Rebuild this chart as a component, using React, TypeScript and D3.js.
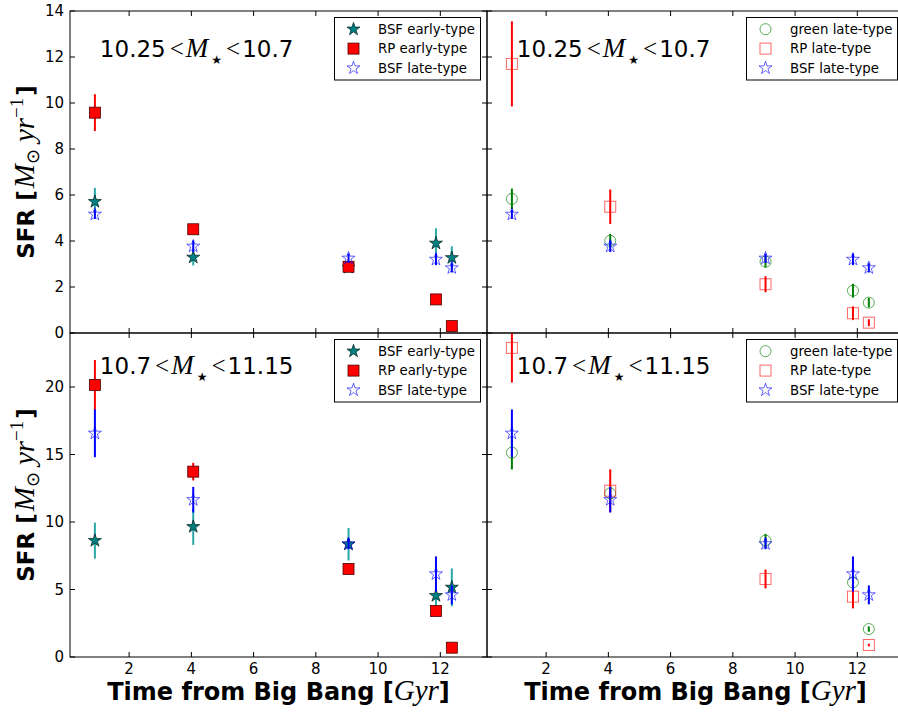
import React from "react";
import * as d3 from "d3";

// ---------- data ----------
const times = [0.9, 4.06, 9.05, 11.86, 12.37];

// low mass bin 10.25 < M < 10.7
const bsfEarlyLow = [5.71, 3.29, 2.85, 3.9, 3.27];
const bsfEarlyLowErr = [0.6, 0.35, 0.2, 0.65, 0.5];
const rpEarlyLow = [9.58, 4.51, 2.88, 1.46, 0.3];
const rpEarlyLowErr = [0.8, 0.15, 0.15, 0.1, 0.08];
const bsfLateLow = [5.16, 3.77, 3.25, 3.2, 2.83];
const bsfLateLowErr = [0.2, 0.25, 0.2, 0.25, 0.2];
const greenLateLow = [5.83, 4.01, 3.1, 1.84, 1.32];
const greenLateLowErr = [0.45, 0.3, 0.25, 0.3, 0.2];
const rpLateLow = [11.7, 5.49, 2.12, 0.86, 0.45];
const rpLateLowErr = [1.85, 0.75, 0.35, 0.3, 0.15];

// high mass bin 10.7 < M < 11.15
const bsfEarlyHigh = [8.62, 9.65, 8.35, 4.54, 5.16];
const bsfEarlyHighErr = [1.33, 1.35, 1.2, 0.8, 1.4];
const rpEarlyHigh = [20.15, 13.73, 6.52, 3.41, 0.69];
const rpEarlyHighErr = [1.85, 0.65, 0.2, 0.2, 0.1];
const bsfLateHigh = [16.57, 11.65, 8.38, 6.15, 4.6];
const bsfLateHighErr = [1.77, 0.95, 0.4, 1.3, 0.7];
const greenLateHigh = [15.14, 12.12, 8.62, 5.53, 2.07];
const greenLateHighErr = [1.25, 0.5, 0.5, 0.6, 0.2];
const rpLateHigh = [22.9, 12.32, 5.78, 4.47, 0.89];
const rpLateHighErr = [2.57, 1.58, 0.7, 0.87, 0.1];

const xTicks = [2, 4, 6, 8, 10, 12];
const yTicksTop = [0, 2, 4, 6, 8, 10, 12, 14];
const yTicksBottom = [0, 5, 10, 15, 20];

const leftLegend = ["BSF early-type", "RP early-type", "BSF late-type"];
const rightLegend = ["green late-type", "RP late-type", "BSF late-type"];
const binLabels = [
  ["10.25", "10.7"],
  ["10.7", "11.15"],
];

// ---------- styling ----------
const W = 898;
const H = 713;
const SANS = "DejaVu Sans";
const SERIF = "Liberation Serif";
const PW = 417;
const colX = [70, 487];
const rows = [
  { top: 11, bottom: 333, ymax: 14, ticks: yTicksTop, annY: 12 },
  { top: 333, bottom: 657, ymax: 24, ticks: yTicksBottom, annY: 21 },
];

type Kind = "starFilled" | "starOpen" | "squareFilled" | "squareOpen" | "circleOpen";
const kindStyle: Record<Kind, { err: string }> = {
  starFilled: { err: "#2aa8a8" },
  starOpen: { err: "#0000ff" },
  squareFilled: { err: "#ff0000" },
  squareOpen: { err: "#ff0000" },
  circleOpen: { err: "#008000" },
};

const starPath = d3.symbol(d3.symbolStar, 52)() as string;

function Marker({ kind, x, y }: { kind: Kind; x: number; y: number }) {
  switch (kind) {
    case "starFilled":
      return <path d={starPath} transform={`translate(${x},${y})`} fill="#008080" stroke="#0a2a2a" strokeWidth={0.8} />;
    case "starOpen":
      return <path d={starPath} transform={`translate(${x},${y})`} fill="none" stroke="#0000ff" strokeOpacity={0.6} strokeWidth={1} />;
    case "squareFilled":
      return <rect x={x - 5.5} y={y - 5.5} width={11} height={11} fill="#ff0000" stroke="#4a0000" strokeWidth={0.8} />;
    case "squareOpen":
      return <rect x={x - 5.5} y={y - 5.5} width={11} height={11} fill="none" stroke="#ff0000" strokeOpacity={0.6} strokeWidth={1} />;
    case "circleOpen":
      return <circle cx={x} cy={y} r={5.5} fill="none" stroke="#008000" strokeOpacity={0.65} strokeWidth={1} />;
  }
}

interface Series { kind: Kind; v: number[]; e: number[]; }

function Panel({ col, row, series, legend, bin, id }: { col: number; row: number; series: Series[]; legend: string[]; bin: string[]; id: string }) {
  const r = rows[row];
  const x0 = colX[col];
  const x = d3.scaleLinear().domain([0.1, 13.5]).range([x0, x0 + PW]);
  const y = d3.scaleLinear().domain([0, r.ymax]).range([r.bottom, r.top]);
  const tl = 5;
  const legW = col === 0 ? 146 : 151;
  const legX = x0 + PW - 6.5 - legW;
  const legY = r.top + 6.5;
  const legKinds: Kind[] = series.map((s) => s.kind);
  return (
    <g>
      <defs>
        <clipPath id={id}>
          <rect x={x0} y={r.top} width={PW} height={r.bottom - r.top} />
        </clipPath>
      </defs>
      <g clipPath={`url(#${id})`}>
        {series.map((s, si) => (
          <g key={si}>
            {s.v.map((v, i) => (
              <g key={i}>
                <line x1={x(times[i])} x2={x(times[i])} y1={y(v - s.e[i])} y2={y(v + s.e[i])} stroke={kindStyle[s.kind].err} strokeWidth={2} />
                <Marker kind={s.kind} x={x(times[i])} y={y(v)} />
              </g>
            ))}
          </g>
        ))}
      </g>
      {/* ticks */}
      {xTicks.map((t) => (
        <g key={"xt" + t}>
          <line x1={x(t)} x2={x(t)} y1={r.bottom} y2={r.bottom - tl} stroke="#000" />
          <line x1={x(t)} x2={x(t)} y1={r.top} y2={r.top + tl} stroke="#000" />
          {row === 1 && (
            <text x={x(t)} y={r.bottom + 17} textAnchor="middle" fontFamily={SANS} fontSize={15}>{t}</text>
          )}
        </g>
      ))}
      {r.ticks.map((t) => (
        <g key={"yt" + t}>
          <line x1={x0} x2={x0 + tl} y1={y(t)} y2={y(t)} stroke="#000" />
          <line x1={x0 + PW} x2={x0 + PW - tl} y1={y(t)} y2={y(t)} stroke="#000" />
          {col === 0 && (
            <text x={x0 - 6} y={y(t)} dy="0.36em" textAnchor="end" fontFamily={SANS} fontSize={15}>{t}</text>
          )}
        </g>
      ))}
      <rect x={x0} y={r.top} width={PW} height={r.bottom - r.top} fill="none" stroke="#000" strokeWidth={1} />
      {/* annotation */}
      <text x={x(1.06)} y={y(r.annY)} fontFamily={SANS} fontSize={23} fill="#000">
        <tspan>{bin[0]}</tspan>
        <tspan dx={4} fontFamily={SERIF} fontSize={25}>&lt;</tspan>
        <tspan dx={2} fontFamily={SERIF} fontStyle="italic" fontSize={27}>M</tspan>
        <tspan dx={3} dy={7} fontSize={12}>★</tspan>
        <tspan dx={4} dy={-7} fontFamily={SERIF} fontSize={25}>&lt;</tspan>
        <tspan dx={2}>{bin[1]}</tspan>
      </text>
      {/* legend */}
      <rect x={legX} y={legY} width={legW} height={62.5} fill="#fff" stroke="#000" strokeWidth={1} />
      {legend.map((lab, i) => {
        const cy = legY + 11.7 + i * 19.4;
        return (
          <g key={lab}>
            <Marker kind={legKinds[i]} x={legX + 19} y={cy} />
            <text x={legX + 43.5} y={cy} dy="0.35em" fontFamily={SANS} fontSize={13.3}>{lab}</text>
          </g>
        );
      })}
    </g>
  );
}

export default function App() {
  const panels = [
    { col: 0, row: 0, legend: leftLegend, series: [
      { kind: "starFilled" as Kind, v: bsfEarlyLow, e: bsfEarlyLowErr },
      { kind: "squareFilled" as Kind, v: rpEarlyLow, e: rpEarlyLowErr },
      { kind: "starOpen" as Kind, v: bsfLateLow, e: bsfLateLowErr },
    ] },
    { col: 1, row: 0, legend: rightLegend, series: [
      { kind: "circleOpen" as Kind, v: greenLateLow, e: greenLateLowErr },
      { kind: "squareOpen" as Kind, v: rpLateLow, e: rpLateLowErr },
      { kind: "starOpen" as Kind, v: bsfLateLow, e: bsfLateLowErr },
    ] },
    { col: 0, row: 1, legend: leftLegend, series: [
      { kind: "starFilled" as Kind, v: bsfEarlyHigh, e: bsfEarlyHighErr },
      { kind: "squareFilled" as Kind, v: rpEarlyHigh, e: rpEarlyHighErr },
      { kind: "starOpen" as Kind, v: bsfLateHigh, e: bsfLateHighErr },
    ] },
    { col: 1, row: 1, legend: rightLegend, series: [
      { kind: "circleOpen" as Kind, v: greenLateHigh, e: greenLateHighErr },
      { kind: "squareOpen" as Kind, v: rpLateHigh, e: rpLateHighErr },
      { kind: "starOpen" as Kind, v: bsfLateHigh, e: bsfLateHighErr },
    ] },
  ];
  return (
    <svg width={W} height={H} style={{ position: "absolute", left: 0, top: 0, background: "#fff" }}>
      <rect width={W} height={H} fill="#fff" />
      {panels.map((p, i) => (
        <Panel key={i} id={"clip" + i} col={p.col} row={p.row} series={p.series} legend={p.legend} bin={binLabels[p.row]} />
      ))}
      {rows.map((r, i) => (
        <text key={"yl" + i} transform={`translate(34,${(r.top + r.bottom) / 2}) rotate(-90)`} textAnchor="middle" fontFamily={SANS} fontSize={23} fontWeight="bold">
          <tspan>SFR [</tspan>
          <tspan dx={2} fontFamily={SERIF} fontStyle="italic" fontWeight="normal" fontSize={29}>M</tspan>
          <tspan dy={5} fontFamily={SERIF} fontWeight="normal" fontSize={18}>⊙</tspan>
          <tspan dx={7} dy={-5} fontFamily={SERIF} fontStyle="italic" fontWeight="normal" fontSize={29}>yr</tspan>
          <tspan dy={-11} fontFamily={SERIF} fontWeight="normal" fontSize={19}>−1</tspan>
          <tspan dx={2} dy={11}>]</tspan>
        </text>
      ))}
      {colX.map((x0, i) => (
        <text key={"xl" + i} x={x0 + PW / 2} y={700} textAnchor="middle" fontFamily={SANS} fontSize={24} fontWeight="bold">
          <tspan>Time from Big Bang [</tspan>
          <tspan fontFamily={SERIF} fontStyle="italic" fontWeight="normal" fontSize={29}>Gyr</tspan>
          <tspan>]</tspan>
        </text>
      ))}
    </svg>
  );
}
